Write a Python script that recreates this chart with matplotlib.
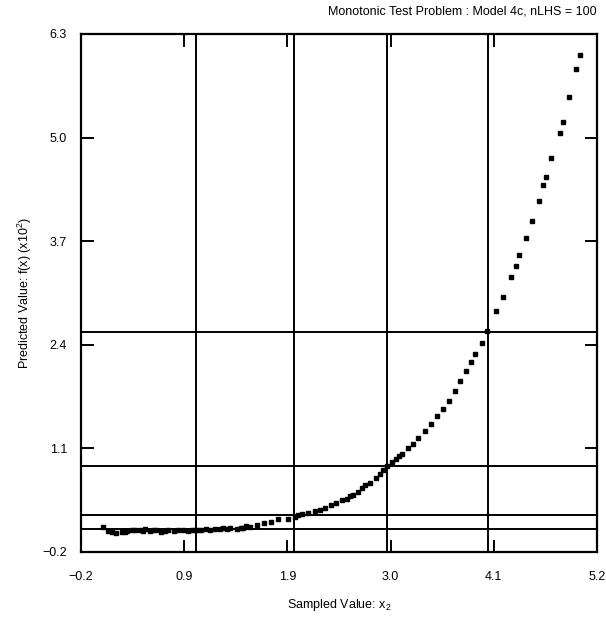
import matplotlib
matplotlib.use('Agg')
import matplotlib.pyplot as plt
import numpy as np

plt.rcParams['font.family'] = ['Liberation Sans', 'DejaVu Sans']
plt.rcParams['mathtext.fontset'] = 'custom'
plt.rcParams['mathtext.rm'] = 'Liberation Sans'
plt.rcParams['mathtext.it'] = 'Liberation Sans'


## Sampled points (x2 vs predicted value, x10^2) ##
x2 = [0.03, 0.08, 0.12, 0.17, 0.23, 0.26, 0.28, 0.33, 0.37, 0.42, 0.45, 0.47,
      0.52, 0.55, 0.59, 0.64, 0.68, 0.71, 0.77, 0.82, 0.87, 0.92, 0.96, 0.99,
      1.02, 1.06, 1.11, 1.15,
      1.20, 1.25, 1.29, 1.33, 1.36, 1.43, 1.47, 1.50, 1.53, 1.57, 1.64, 1.71,
      1.79, 1.86, 1.97, 2.04, 2.07, 2.11, 2.18, 2.25, 2.30, 2.35, 2.42, 2.47,
      2.53, 2.58, 2.62, 2.65, 2.70, 2.74, 2.77, 2.82, 2.89, 2.93, 2.96, 3.00,
      3.05, 3.10, 3.13, 3.16, 3.22, 3.27, 3.33, 3.40, 3.46, 3.53, 3.59, 3.65,
      3.71, 3.77, 3.83, 3.88, 3.92, 4.00, 4.05, 4.14, 4.22, 4.30, 4.35, 4.38,
      4.46, 4.52, 4.59, 4.63, 4.67, 4.72, 4.81, 4.84, 4.91, 4.985, 5.02]
fx = [0.11, 0.06, 0.05, 0.04, 0.05, 0.05, 0.06, 0.08, 0.07, 0.07, 0.06, 0.09,
      0.06, 0.07, 0.07, 0.05, 0.06, 0.07, 0.06, 0.08, 0.07, 0.06, 0.07, 0.08,
      0.07, 0.07, 0.09, 0.08,
      0.085, 0.09, 0.10, 0.09, 0.10, 0.085, 0.10, 0.10, 0.12, 0.11, 0.14, 0.16,
      0.18, 0.21, 0.22, 0.24, 0.26, 0.28, 0.29, 0.31, 0.33, 0.35, 0.39, 0.42,
      0.45, 0.47, 0.50, 0.52, 0.557, 0.60, 0.64, 0.67, 0.725, 0.78, 0.83, 0.88,
      0.93, 0.97, 1.00, 1.03, 1.10, 1.16, 1.23, 1.32, 1.41, 1.51, 1.60, 1.70,
      1.82, 1.94, 2.07, 2.18, 2.29, 2.42, 2.57, 2.83, 3.00, 3.25, 3.39, 3.53,
      3.74, 3.95, 4.21, 4.40, 4.51, 4.74, 5.06, 5.20, 5.51, 5.86, 6.04]

## Reference lines ##
x_lines = [1.0, 2.03, 3.0, 4.06]
y_lines = [0.09, 0.26, 0.88, 2.56]

## Axis ticks ##
x_ticklabels = ['\u22120.2', '0.9', '1.9', '3.0', '4.1', '5.2']
y_ticklabels = ['\u22120.2', '1.1', '2.4', '3.7', '5.0', '6.3']
xlim = (-0.2, 5.2)
ylim = (-0.2, 6.3)


fig = plt.figure(figsize=(6.06, 6.2), dpi=100)
ax = fig.add_axes([81/606, 68/620, 516/606, 518/620])

for xv in x_lines:
    ax.axvline(xv, color='k', lw=1.4, zorder=1)
for yv in y_lines:
    ax.axhline(yv, color='k', lw=1.4, zorder=1)

ax.plot(x2, fx, 's', color='k', ms=3.2, mec='k', zorder=3)

ax.set_xlim(*xlim)
ax.set_ylim(*ylim)
ax.set_xticks(np.linspace(xlim[0], xlim[1], 6))
ax.set_xticklabels(x_ticklabels)
ax.set_yticks(np.linspace(ylim[0], ylim[1], 6))
ax.set_yticklabels(y_ticklabels)
ax.tick_params(axis='both', direction='in', length=9, width=1.4,
               top=True, right=True, labelsize=9)
ax.tick_params(axis='x', pad=14)
ax.tick_params(axis='y', pad=10)
for spine in ax.spines.values():
    spine.set_linewidth(1.6)

ax.set_xlabel('Sampled Value: x$_2$', fontsize=9, labelpad=10)
ax.set_ylabel('Predicted Value: f(x) (x10$^2$)', fontsize=9, labelpad=6)
fig.text(597/606, 1 - 12/620, 'Monotonic Test Problem : Model 4c, nLHS = 100',
         ha='right', va='center', fontsize=9)

plt.savefig('out.png', dpi=100)
plt.close(fig)
